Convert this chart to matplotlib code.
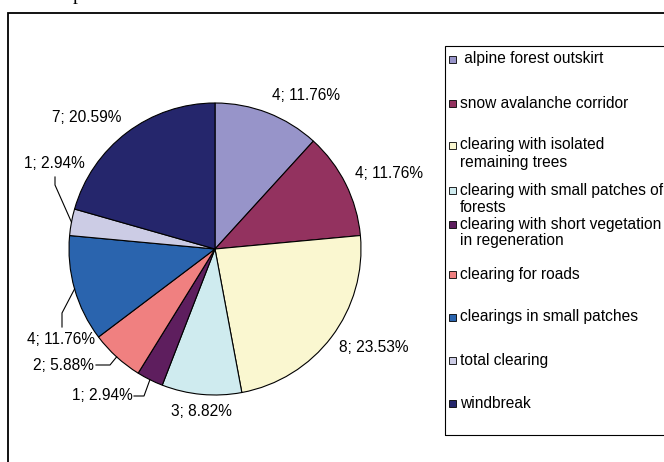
"""
Pie chart of clearing types (counts and share of total), with a boxed legend.
"""
import matplotlib
matplotlib.use("Agg")
import numpy as np
import matplotlib.pyplot as plt
from matplotlib.patches import Rectangle

plt.rcParams["font.family"] = ["Liberation Sans", "DejaVu Sans"]

# --- data -------------------------------------------------------------------
categories = [
    " alpine forest outskirt",
    "snow avalanche corridor",
    "clearing with isolated\nremaining trees",
    "clearing with small patches of\nforests",
    "clearing with short vegetation\nin regeneration",
    "clearing for roads",
    "clearings in small patches",
    "total clearing",
    "windbreak",
]
counts = [4, 4, 8, 3, 1, 2, 4, 1, 7]
colors = ["#9794C9", "#93325F", "#FAF7D0", "#CFEBEF", "#5E1E5E",
          "#F08080", "#2A64AE", "#CCCCE5", "#25266C"]

# --- layout (pixel units, origin top-left) ---------------------------------
W, H = 664, 462
CX, CY, R = 215, 249, 146
FS = 11.2

# centre of each slice label
label_pos = [(306, 96), (389, 174), (374, 348), (201, 412), (102, 396),
             (63, 365), (61, 340), (54, 163), (87, 118)]
# leader lines for the small slices: start point and elbow, then to the rim
leaders = {
    4: [(134, 396), (144, 396)],
    5: [(96, 365), (110, 365)],
    6: [(62, 327), (62, 313)],
    7: [(55, 177), (55, 185)],
}
legend_y = [59, 103, 145, 190, 224, 274, 317, 360, 403]
LINE_H = 17


def up(y):
    return H - y


fig = plt.figure(figsize=(W / 100, H / 100), dpi=100)
ax = fig.add_axes([0, 0, 1, 1])

wedges, _ = ax.pie(counts, colors=colors, startangle=90, counterclock=False,
                   center=(CX, up(CY)), radius=R, frame=True,
                   wedgeprops=dict(edgecolor="black", linewidth=0.8))
ax.set_xlim(0, W)
ax.set_ylim(0, H)
ax.set_aspect("auto")
ax.axis("off")

total = sum(counts)
for i, (c, (lx, ly)) in enumerate(zip(counts, label_pos)):
    ax.text(lx, up(ly), f"{c}; {c / total * 100:.2f}%", fontsize=FS,
            ha="center", va="center", color="black")

for i, pts in leaders.items():
    w = wedges[i]
    mid = np.deg2rad((w.theta1 + w.theta2) / 2)
    rim = (CX + R * np.cos(mid), up(CY) + R * np.sin(mid))
    xs = [p[0] for p in pts] + [rim[0]]
    ys = [up(p[1]) for p in pts] + [rim[1]]
    ax.plot(xs, ys, color="black", linewidth=0.8)

# outer frame and legend box (both run off the right/bottom edge)
ax.add_patch(Rectangle((7.5, -60), 720, up(12.5) + 60, fill=False,
                       edgecolor="black", linewidth=1.3, clip_on=False))
ax.add_patch(Rectangle((444.5, up(435)), 320, 435 - 46, fill=False,
                       edgecolor="black", linewidth=0.8, clip_on=False))

for name, col, y in zip(categories, colors, legend_y):
    ax.add_patch(Rectangle((449, up(y) - 3.5), 7, 7, facecolor=col,
                           edgecolor="black", linewidth=0.6))
    for k, line in enumerate(name.split("\n")):
        ax.text(460, up(y + k * LINE_H), line, fontsize=FS, ha="left",
                va="center", color="black", clip_on=True)

# tail of the caption line above the chart
ax.text(73, H + 0.5, "p", fontsize=14, family="Liberation Serif",
        ha="left", va="baseline")

fig.savefig("out.png", dpi=100)
